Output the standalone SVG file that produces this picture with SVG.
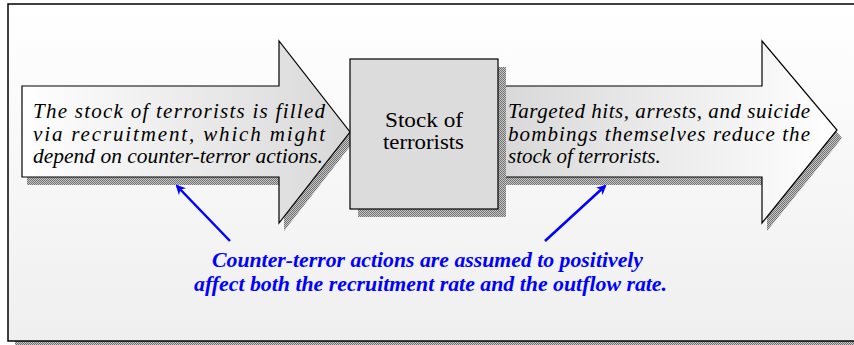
<svg xmlns="http://www.w3.org/2000/svg" width="854" height="345" viewBox="0 0 854 345">
<defs>
<pattern id="dots" width="2" height="2" patternUnits="userSpaceOnUse">
<rect width="2" height="2" fill="#c8c8c8"/>
<rect width="1" height="1" fill="#707070"/>
<rect x="1" y="1" width="1" height="1" fill="#707070"/>
</pattern>
<linearGradient id="bg" x1="0" y1="0" x2="0" y2="1">
<stop offset="0" stop-color="#ffffff"/>
<stop offset="1" stop-color="#efefef"/>
</linearGradient>
<linearGradient id="gl" x1="22" y1="0" x2="350" y2="0" gradientUnits="userSpaceOnUse">
<stop offset="0" stop-color="#ffffff"/>
<stop offset="1" stop-color="#d8d8d8"/>
</linearGradient>
<linearGradient id="gr" x1="498" y1="0" x2="837" y2="0" gradientUnits="userSpaceOnUse">
<stop offset="0" stop-color="#d8d8d8"/>
<stop offset="1" stop-color="#ffffff"/>
</linearGradient>
<marker id="ah" markerWidth="10" markerHeight="10" refX="8" refY="5" orient="auto" markerUnits="userSpaceOnUse" viewBox="0 0 10 10">
<path d="M0,0 L10,5 L0,10 L3,5 Z" fill="#0000ff"/>
</marker>
<style>
.arr{stroke:#000;stroke-width:1.2}
.ptr{stroke:#0000ff;stroke-width:2.5;fill:none}
</style>
</defs>
<rect x="15" y="11" width="845" height="334" fill="url(#dots)"/>
<rect x="8" y="4" width="850" height="337" fill="url(#bg)" stroke="#000" stroke-width="1.5"/>
<g id="left-arrow">
<path d="M27,94 H284 V49 L355,140 L284,231 V185 H27 Z" fill="url(#dots)"/>
<path class="arr" d="M22,86 H279 V41 L350,132 L279,223 V177 H22 Z" fill="url(#gl)"/>
<g font-family="Liberation Serif, serif" font-style="italic" font-size="21" fill="#000">
<text x="33" y="118" textLength="292" lengthAdjust="spacing">The stock of terrorists is filled</text>
<text x="33" y="141" textLength="292" lengthAdjust="spacing">via recruitment, which might</text>
<text x="33" y="163" textLength="290" lengthAdjust="spacingAndGlyphs">depend on counter-terror actions.</text>
</g>
</g>
<g id="right-arrow">
<path d="M503,94 H767 V49 L842,138 L767,231 V185 H503 Z" fill="url(#dots)"/>
<path class="arr" d="M498,86 H762 V41 L837,130 L762,223 V177 H498 Z" fill="url(#gr)"/>
<g font-family="Liberation Serif, serif" font-style="italic" font-size="21" fill="#000">
<text x="508" y="118" textLength="302" lengthAdjust="spacing">Targeted hits, arrests, and suicide</text>
<text x="508" y="141" textLength="302" lengthAdjust="spacing">bombings themselves reduce the</text>
<text x="508" y="163">stock of terrorists.</text>
</g>
</g>
<g id="stock">
<rect x="358" y="67" width="148" height="150" fill="url(#dots)"/>
<rect x="350" y="59" width="148" height="150" fill="#dcdcdc" stroke="#000" stroke-width="1.2"/>
<g font-family="Liberation Serif, serif" font-size="21" fill="#000">
<text x="385" y="127" textLength="78" lengthAdjust="spacingAndGlyphs">Stock of</text>
<text x="383" y="149" textLength="81" lengthAdjust="spacingAndGlyphs">terrorists</text>
</g>
</g>
<g id="connectors">
<line class="ptr" x1="230" y1="241" x2="177" y2="186" marker-end="url(#ah)"/>
<line class="ptr" x1="545" y1="241" x2="605" y2="186" marker-end="url(#ah)"/>
</g>
<g id="note" font-family="Liberation Serif, serif" font-style="italic" font-weight="bold" font-size="20" fill="#0000ff">
<text x="212" y="267" textLength="431" lengthAdjust="spacingAndGlyphs">Counter-terror actions are assumed to positively</text>
<text x="194" y="291" textLength="473" lengthAdjust="spacingAndGlyphs">affect both the recruitment rate and the outflow rate.</text>
</g>
</svg>
